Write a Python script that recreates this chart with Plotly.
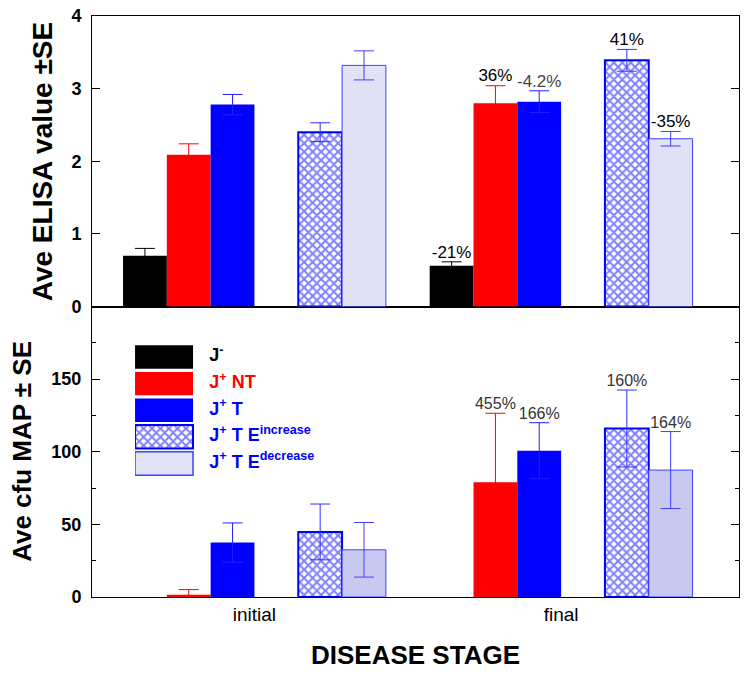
import plotly.graph_objects as go

# ---------------- data ----------------
groups = ["initial", "final"]
series = ["J-", "J+ NT", "J+ T", "J+ T E increase", "J+ T E decrease"]

elisa_initial = [0.70, 2.09, 2.78, 2.40, 3.32]
elisa_initial_se = [0.10, 0.15, 0.14, 0.13, 0.20]
elisa_final = [0.56, 2.80, 2.82, 3.39, 2.31]
elisa_final_se = [0.055, 0.24, 0.15, 0.15, 0.10]
elisa_final_labels = ["-21%", "36%", "-4.2%", "41%", "-35%"]

map_initial = [0, 1.5, 37.5, 44.8, 32.5]
map_initial_se = [0, 3.6, 13.5, 19.2, 18.8]
map_final = [0, 79.0, 100.7, 116.0, 87.4]
map_final_se = [0, 47.5, 19.3, 26.5, 26.5]
map_final_labels = ["", "455%", "166%", "160%", "164%"]

legend_labels = ["J<sup>-</sup>", "J<sup>+</sup> NT", "J<sup>+</sup> T",
                 "J<sup>+</sup> T E<sup>increase</sup>", "J<sup>+</sup> T E<sup>decrease</sup>"]

elisa_ticks = [0, 1, 2, 3, 4]
map_ticks = [0, 50, 100, 150]

# ---------------- style ----------------
group_pos = [3, 10]
offsets = [-2.5, -1.5, -0.5, 1.5, 2.5]
fill_top = ["#000000", "#ff0000", "#0000ff", "#ffffff", "#e1e2f8"]
fill_bot = ["#000000", "#ff0000", "#0000ff", "#ffffff", "#c7c9f1"]
fill_leg = ["#000000", "#ff0000", "#0000ff", "#ffffff", "#e2e3f8"]
shapes_pat = ["", "", "", "x", ""]
line_col = ["#000000", "#ff0000", "#0000ff", "#0000ff", "#4040ff"]
line_w = [0, 0, 0, 2, 1]
err_col = ["#000000", "#ff0000", "#2020ff", "#3030ff", "#4040ff"]
top_lbl_col = ["#000000", "#000000", "#444444", "#000000", "#000000"]
legend_txt_col = ["#000000", "#ff0000", "#0000ff", "#0000ff", "#0000ff"]
PAT_SIZE, PAT_SOLID = 6, 0.55

FONT = "Liberation Sans, Arial, sans-serif"
NARROW = "Liberation Sans Narrow, Arial Narrow, Liberation Sans, Arial, sans-serif"

fig = go.Figure()


def add_panel(vals_i, se_i, vals_f, se_f, fills, xa, ya):
    for s in range(len(series)):
        xs = [group_pos[0] + offsets[s], group_pos[1] + offsets[s]]
        ys = [vals_i[s], vals_f[s]]
        es = [se_i[s], se_f[s]]
        marker = dict(color=fills[s], line=dict(color=line_col[s], width=line_w[s]))
        if shapes_pat[s]:
            marker["pattern"] = dict(shape=shapes_pat[s], fgcolor="#0000ff", bgcolor="#ffffff",
                                     size=PAT_SIZE, solidity=PAT_SOLID)
        fig.add_trace(go.Bar(
            x=xs, y=ys, width=1, marker=marker, xaxis=xa, yaxis=ya,
            error_y=dict(type="data", array=es, visible=any(e > 0 for e in es),
                         color=err_col[s], thickness=1, width=10),
            showlegend=False, hoverinfo="skip"))


add_panel(elisa_initial, elisa_initial_se, elisa_final, elisa_final_se, fill_top, "x2", "y2")
add_panel(map_initial, map_initial_se, map_final, map_final_se, fill_bot, "x", "y")

# percentage labels
fig.add_trace(go.Scatter(
    x=[group_pos[1] + o for o in offsets],
    y=[v + e for v, e in zip(elisa_final, elisa_final_se)],
    text=elisa_final_labels, mode="text", textposition="top center",
    textfont=dict(family=NARROW, size=17, color=top_lbl_col),
    xaxis="x2", yaxis="y2", showlegend=False, cliponaxis=False, hoverinfo="skip"))
fig.add_trace(go.Scatter(
    x=[group_pos[1] + o for o in offsets],
    y=[v + e for v, e in zip(map_final, map_final_se)],
    text=map_final_labels, mode="text", textposition="top center",
    textfont=dict(family=NARROW, size=16, color="#333333"),
    xaxis="x", yaxis="y", showlegend=False, cliponaxis=False, hoverinfo="skip"))

# custom legend: one swatch bar per series on a hidden axis
for s in range(len(series)):
    marker = dict(color=fill_leg[s], line=dict(color=line_col[s], width=[0, 0, 0, 2, 1.5][s]))
    if shapes_pat[s]:
        marker["pattern"] = dict(shape=shapes_pat[s], fgcolor="#0000ff", bgcolor="#ffffff",
                                 size=PAT_SIZE, solidity=PAT_SOLID)
    fig.add_trace(go.Bar(
        x=[1], y=[s], orientation="h", width=0.88, marker=marker,
        xaxis="x3", yaxis="y3", showlegend=False, hoverinfo="skip"))
fig.add_trace(go.Scatter(
    x=[1.28] * len(series), y=list(range(len(series))), text=legend_labels, mode="text",
    textposition="middle right",
    textfont=dict(family=FONT, size=18, color=legend_txt_col, weight="bold"),
    xaxis="x3", yaxis="y3", showlegend=False, cliponaxis=False, hoverinfo="skip"))

x_range = [-0.708, 14.06]
axis_common = dict(showline=True, linecolor="#000000", linewidth=1, mirror="ticks",
                   showgrid=False, zeroline=False, automargin=False)

fig.update_layout(
    width=735, height=661,
    margin=dict(l=84, r=4, t=8, b=72),
    paper_bgcolor="white", plot_bgcolor="rgba(0,0,0,0)",
    barmode="overlay",
    font=dict(family=FONT, color="#000000"),
    xaxis=dict(domain=[0, 1], anchor="y", range=x_range, tickvals=group_pos, ticktext=groups,
               ticks="", tickfont=dict(size=19, family=FONT), **axis_common),
    xaxis2=dict(domain=[0, 1], anchor="y2", range=x_range, matches="x",
                showticklabels=False, ticks="", **axis_common),
    yaxis=dict(domain=[0, 0.5], anchor="x", range=[0, 200], tickvals=map_ticks,
               ticks="inside", ticklen=8, tickcolor="#000000",
               minor=dict(dtick=25, ticks="inside", ticklen=4, tickcolor="#000000"),
               tickfont=dict(size=18, family=FONT, weight="bold"), ticklabelstandoff=6,
               ticklabeloverflow="allow", **axis_common),
    yaxis2=dict(domain=[0.5, 1], anchor="x2", range=[0, 4], tickvals=elisa_ticks,
                ticks="inside", ticklen=8, tickcolor="#000000",
                tickfont=dict(size=18, family=FONT, weight="bold"), ticklabelstandoff=6,
                ticklabeloverflow="allow", **axis_common),
    xaxis3=dict(domain=[0.0665, 0.5997], anchor="y3", range=[0, 5.948], visible=False,
                automargin=False),
    yaxis3=dict(domain=[0.207, 0.436], anchor="x3", range=[4.5, -0.5], visible=False,
                automargin=False),
    annotations=[
        dict(text="<b>Ave ELISA value ±SE</b>", xref="paper", yref="paper",
             x=-0.0773, y=0.75, xanchor="center", yanchor="middle", textangle=-90,
             showarrow=False, font=dict(size=28, family=FONT)),
        dict(text="<b>Ave cfu MAP ± SE</b>", xref="paper", yref="paper",
             x=-0.108, y=0.25, xanchor="center", yanchor="middle", textangle=-90,
             showarrow=False, font=dict(size=26, family=FONT)),
        dict(text="<b>DISEASE STAGE</b>", xref="paper", yref="paper",
             x=0.5, y=-0.1, xanchor="center", yanchor="middle",
             showarrow=False, font=dict(size=26, family=FONT)),
    ],
)

fig.write_html("out.html")
